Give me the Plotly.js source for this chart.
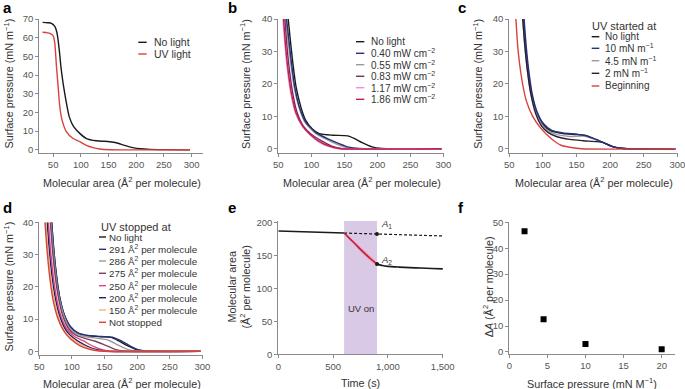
<!DOCTYPE html>
<html><head><meta charset="utf-8">
<script src="https://cdn.plot.ly/plotly-3.0.1.min.js"></script>
<style>html,body{margin:0;padding:0;background:#fff}#chart{width:685px;height:389px}</style>
</head><body><div id="chart"></div>
<script>
// ---------- Panel a ----------
const aNoLightX = [31,40,47,53,57,61,64,68,73,79,87,98,110,128,152,164,179,194,207,225,297];
const aNoLightY = [68.2,68,67.7,66,62.5,53.6,44.5,35.5,26.6,17.7,12.3,8.75,6,4.8,4.3,3.75,2.3,1.1,0.5,0.2,0];
const aUVX = [31,40,44,50,53,56,59,62,66,74,86,98,110,122,134,152,297];
const aUVY = [62.9,62.6,62.3,61,57,44.5,33.8,23,16,9.6,6,4.3,2.3,1.1,0.4,0,0];
// ---------- Panel b ----------
const bNoLightX = [65,68,72,77,85,92,102,112,132,155,165,177,192,207,230,297];
const bNoLightY = [40,34,26.5,19,12.3,8.6,6,4.7,4.2,4,3.2,1.9,0.6,0.1,0,0];
const b040X = [62.5,66,70,75,82,92,107,127,142,157,172,297];
const b040Y = [40,33.6,26.4,19,12.8,8.1,5,2.9,1.6,0.5,0.1,0];
const b055X = [61.5,65,69,74,81,90,105,120,140,155,297];
const b055Y = [40,33,26,19,13,8.3,5,3.2,1.3,0.3,0];
const b083X = [60,63,67,72,78,88,100,115,130,145,297];
const b083Y = [40,32,24,17,11.5,7,4.5,2.5,0.9,0.1,0];
const b117X = [57,60,64,69,76,86,97,110,125,140,297];
const b117Y = [40,32,24,17,11,7,4.5,2.3,0.8,0.1,0];
const b186X = [58,61,65,70,77,87,98,112,127,142,297];
const b186Y = [40,32,24,17,11,7,4.5,2.3,0.8,0.1,0];
// ---------- Panel c ----------
const cNoLightX = [71,74,78,83,90,100,112,130,150,163,175,190,205,220,297];
const cNoLightY = [40,32,24,17,11.5,7.5,5.5,4.7,4.4,4.1,3.2,1.9,0.6,0.1,0];
const c10X = [72,75,79,84,91,101,113,130,150,163,175,190,205,220,297];
const c10Y = [40,32,24,17,11.6,7.7,5.7,4.9,4.5,4.1,3.2,1.9,0.6,0.1,0];
const c45X = [70,73,77,82,89,99,110,125,140,160,175,190,205,220,297];
const c45Y = [40,32,24,17,11.5,7.3,5.2,4.2,3.8,3.9,3.1,1.9,0.6,0.1,0];
const c2X = [70,73,77,82,89,98,108,120,140,160,180,190,205,220,297];
const c2Y = [40,32,24,17,11,7,5,3.8,2.9,2.5,2.2,1.9,0.6,0.1,0];
const cBeginX = [59.8,63,68,75,85,97,112,127,142,157,297];
const cBeginY = [40,30.4,22.2,15,9.9,6.3,3.2,1.1,0.4,0,0];
// ---------- Panel d ----------
const dNoLightX = [69,72,76,81,88,98,110,125,145,160,172,185,200,215,297];
const dNoLightY = [40,32,24,17,11.5,7.5,5.5,4.8,4.5,4.3,3.2,1.8,0.5,0.1,0];
const d291X = [69,72,76,81,88,98,110,125,145,162,175,188,200,212,297];
const d291Y = [40,32,24,17,11.5,7.6,5.6,4.9,4.6,4.4,3.3,1.8,0.6,0.1,0];
const d286X = [68,71,75,80,87,96,108,122,140,155,170,185,200,297];
const d286Y = [40,32,24,17,11.5,7.3,5.3,4.5,4,3.5,2,0.6,0.1,0];
const d275X = [67,70,74,79,86,95,106,120,135,150,165,180,297];
const d275Y = [40,32,24,17,11,7,5,4,3.2,2,0.7,0.1,0];
const d250X = [64,67,71,76,83,92,104,118,132,148,160,297];
const d250Y = [40,32,24,17,11,7,4.6,3.2,1.6,0.4,0,0];
const d200X = [62,65,69,74,81,91,103,117,132,150,297];
const d200Y = [40,32,24,17,11,6.5,4,2.2,0.8,0.1,0];
const d150X = [60,63,67,72,79,88,100,115,130,145,297];
const d150Y = [40,32,24,17,11,6.5,4,2,0.7,0.1,0];
const dNotX = [58.7,62,66,71,78,87,98,112,127,142,297];
const dNotY = [40,31,23,16,10.5,6.5,3.8,1.8,0.6,0.1,0];
// ---------- Panel e ----------
const eBeforeT = [0,300,600];
const eBeforeA = [187.4,185.7,184.2];
const eDashT = [600,900,1200,1500];
const eDashA = [184.2,182.8,181.2,179.8];
const eUVT = [600,650,700,750,800,850,900];
const eUVA = [184.2,176,168,159.5,151.5,144,137];
const eBandUpper = [185,179,171.5,163.5,155.5,148,140];
const eBandLower = [183,173,164.5,155.5,147.5,140,134];
const eAfterT = [900,950,1000,1100,1200,1300,1400,1500];
const eAfterA = [137,134.8,133.6,132.5,131.6,131,130.4,129.8];
const eUVStart = 600, eUVEnd = 900;
const eMarksT = [900,900];
const eMarksA = [182.8,137];
// ---------- Panel f ----------
const fPressure = [2,4.5,10,20];
const fDeltaA = [46.5,12.6,3.1,1.0];

// ---------- helpers ----------
const W = 685, H = 389;
const px = v => v / W;
const py = v => 1 - v / H;
function line(x, y, color, xa, ya, w, extra) {
  return Object.assign({x: x, y: y, xaxis: xa, yaxis: ya, mode: 'lines', type: 'scatter',
    line: {color: color, width: w || 1.4, shape: 'spline', smoothing: 0.6}, hoverinfo: 'skip', showlegend: false}, extra || {});
}
const K = '#1a1a1a', RED = '#d8413c', NAVY = '#25307f', GRAY = '#9a9a9a';
const traces = [
  line(aNoLightX, aNoLightY, K, 'x', 'y'),
  line(aUVX, aUVY, RED, 'x', 'y'),

  line(bNoLightX, bNoLightY, K, 'x2', 'y2'),
  line(b055X, b055Y, GRAY, 'x2', 'y2'),
  line(b040X, b040Y, NAVY, 'x2', 'y2'),
  line(b083X, b083Y, '#7a2d5c', 'x2', 'y2'),
  line(b117X, b117Y, '#f08fd6', 'x2', 'y2'),
  line(b186X, b186Y, '#c21e4e', 'x2', 'y2'),

  line(cNoLightX, cNoLightY, K, 'x3', 'y3'),
  line(c45X, c45Y, GRAY, 'x3', 'y3'),
  line(c2X, c2Y, '#2e1c30', 'x3', 'y3'),
  line(c10X, c10Y, NAVY, 'x3', 'y3'),
  line(cBeginX, cBeginY, RED, 'x3', 'y3'),

  line(dNoLightX, dNoLightY, K, 'x4', 'y4'),
  line(d291X, d291Y, NAVY, 'x4', 'y4'),
  line(d286X, d286Y, GRAY, 'x4', 'y4'),
  line(d275X, d275Y, '#7b4260', 'x4', 'y4'),
  line(d250X, d250Y, '#e0458a', 'x4', 'y4'),
  line(d200X, d200Y, '#1e1f66', 'x4', 'y4'),
  line(d150X, d150Y, '#e8b87a', 'x4', 'y4'),
  line(dNotX, dNotY, RED, 'x4', 'y4'),

  line(eUVT, eBandLower, 'rgba(0,0,0,0)', 'x5', 'y5', 0.1),
  line(eUVT, eBandUpper, 'rgba(0,0,0,0)', 'x5', 'y5', 0.1, {fill: 'tonexty', fillcolor: '#f6a3b8'}),
  line(eBeforeT, eBeforeA, K, 'x5', 'y5', 1.6),
  line(eDashT, eDashA, K, 'x5', 'y5', 1.2, {line: {color: K, width: 1.2, dash: '3px,2px'}}),
  line(eUVT, eUVA, '#b8203e', 'x5', 'y5', 1.6),
  line(eAfterT, eAfterA, K, 'x5', 'y5', 1.6),
  {x: eMarksT, y: eMarksA, xaxis: 'x5', yaxis: 'y5', mode: 'markers', type: 'scatter',
   marker: {color: K, size: 4}, hoverinfo: 'skip', showlegend: false},

  {x: fPressure, y: fDeltaA, xaxis: 'x6', yaxis: 'y6', mode: 'markers', type: 'scatter',
   marker: {color: '#000', size: 6, symbol: 'square'}, hoverinfo: 'skip', showlegend: false}
];

const FONT = 'Liberation Sans, Arial, sans-serif';
const TICKF = {size: 9.5, color: '#555', family: FONT};
function xax(l, r, range, anchor, tickvals, ticktext) {
  const o = {domain: [px(l), px(r)], range: range, anchor: anchor, showline: true, linecolor: '#8a8a8a', linewidth: 1,
    ticks: 'outside', ticklen: 3, tickcolor: '#8a8a8a', showgrid: false, zeroline: false, ticklabeloverflow: 'allow',
    tickfont: TICKF, tickvals: tickvals, fixedrange: true};
  if (ticktext) o.ticktext = ticktext;
  return o;
}
function yax(t, b, range, anchor, tickvals) {
  return {domain: [py(b), py(t)], range: range, anchor: anchor, showline: true, linecolor: '#8a8a8a', linewidth: 1,
    ticks: 'outside', ticklen: 3, tickcolor: '#8a8a8a', showgrid: false, zeroline: false, ticklabeloverflow: 'allow',
    tickfont: TICKF, tickvals: tickvals, fixedrange: true};
}
const t50 = [50,100,150,200,250,300];
const t40 = [0,10,20,30,40];

const ann = [];
const shapes = [];
function text(x, y, s, opt) {
  ann.push(Object.assign({xref: 'paper', yref: 'paper', x: px(x), y: py(y), text: s, showarrow: false,
    xanchor: 'center', yanchor: 'middle', font: {size: 10, color: '#333', family: FONT}}, opt || {}));
}
function legItem(x0, x1, y, color, label, tx, fs) {
  shapes.push({type: 'line', xref: 'paper', yref: 'paper', x0: px(x0), x1: px(x1), y0: py(y), y1: py(y), line: {color: color, width: 1.4}});
  text(tx, y, label, {xanchor: 'left', font: {size: fs || 10, color: '#333', family: FONT}});
}
// panel labels
const PL = {size: 15, color: '#000', family: FONT, weight: 'bold'};
text(1, 8, '<b>a</b>', {xanchor: 'left', font: PL});
text(226, 8, '<b>b</b>', {xanchor: 'left', font: PL});
text(456, 8, '<b>c</b>', {xanchor: 'left', font: PL});
text(1, 208, '<b>d</b>', {xanchor: 'left', font: PL});
text(226, 208, '<b>e</b>', {xanchor: 'left', font: PL});
text(456, 208, '<b>f</b>', {xanchor: 'left', font: PL});
// axis titles
const XT = 'Molecular area (Å<sup>2</sup> per molecule)';
const YT = 'Surface pressure (mN m<sup>−1</sup>)';
const TF = {size: 10.8, color: '#333', family: FONT};
text(121.7, 181.5, XT, {font: TF});
text(361.7, 181.5, XT, {font: TF});
text(594.3, 181.5, XT, {font: TF});
text(121.7, 383, XT, {font: TF});
text(360, 383, 'Time (s)', {font: TF});
text(591.7, 383, 'Surface pressure (mN M<sup>−1</sup>)', {font: TF});
text(8.5, 84, YT, {textangle: -90, font: TF});
text(245, 84, YT, {textangle: -90, font: TF});
text(477.7, 84, YT, {textangle: -90, font: TF});
text(8.5, 287, YT, {textangle: -90, font: TF});
text(238.5, 287, 'Molecular area<br>(Å<sup>2</sup> per molecule)', {textangle: -90, font: TF});
text(488.3, 287, 'Δ<i>A</i> (Å<sup>2</sup> per molecule)', {textangle: -90, font: TF});
// legends
legItem(138.3, 146.7, 42.3, K, 'No light', 151.5, 10.5);
legItem(138.3, 146.7, 54, RED, 'UV light', 151.5, 10.5);
const bLab = ['No light','0.40 mW cm<sup>−2</sup>','0.55 mW cm<sup>−2</sup>','0.83 mW cm<sup>−2</sup>','1.17 mW cm<sup>−2</sup>','1.86 mW cm<sup>−2</sup>'];
const bCol = [K, NAVY, GRAY, '#7a2d5c', '#f08fd6', '#c21e4e'];
const bRows = [41.7,53.3,64.7,76.3,87.7,99.3];
bLab.forEach((s,i) => legItem(356, 364.3, bRows[i], bCol[i], s, 369));
text(590, 26, 'UV started at', {xanchor: 'left', font: {size: 11, color: '#333', family: FONT}});
const cLab = ['No light','10 mN m<sup>−1</sup>','4.5 mN m<sup>−1</sup>','2 mN m<sup>−1</sup>','Beginning'];
const cCol = [K, NAVY, GRAY, '#2e1c30', RED];
const cRows = [36.7,48.3,60.7,73.3,86];
cLab.forEach((s,i) => legItem(591.7, 599.3, cRows[i], cCol[i], s, 603.3));
text(99, 226.7, 'UV stopped at', {xanchor: 'left', font: {size: 11, color: '#333', family: FONT}});
const dLab = ['No light','291 Å<sup>2</sup> per molecule','286 Å<sup>2</sup> per molecule','275 Å<sup>2</sup> per molecule','250 Å<sup>2</sup> per molecule','200 Å<sup>2</sup> per molecule','150 Å<sup>2</sup> per molecule','Not stopped'];
const dCol = [K, NAVY, GRAY, '#7b4260', '#e0458a', '#1e1f66', '#e8b87a', RED];
const dRows = [237,249.3,261,273.3,285.7,297.7,310,322.3];
dLab.forEach((s,i) => legItem(99, 106, dRows[i], dCol[i], s, 107, 9.8));
// panel e extras
shapes.push({type: 'rect', xref: 'x5', yref: 'y5', x0: eUVStart, x1: eUVEnd, y0: 0, y1: 202.5,
  fillcolor: '#d9c9e6', line: {width: 0}, layer: 'below'});
ann.push({xref: 'x5', yref: 'y5', x: 750, y: 69, text: 'UV on', showarrow: false, font: {size: 9.5, color: '#333', family: FONT}});
ann.push({xref: 'x5', yref: 'y5', x: 920, y: 198, text: '<i>A</i><sub>1</sub>', showarrow: false, xanchor: 'left', font: {size: 9.5, color: '#333', family: FONT}});
ann.push({xref: 'x5', yref: 'y5', x: 920, y: 144, text: '<i>A</i><sub>2</sub>', showarrow: false, xanchor: 'left', font: {size: 9.5, color: '#333', family: FONT}});

const layout = {
  width: W, height: H, margin: {l: 0, r: 0, t: 0, b: 0}, paper_bgcolor: '#fff', plot_bgcolor: 'rgba(0,0,0,0)',
  showlegend: false, font: {family: FONT},
  xaxis: xax(39.3, 202.7, [25, 320], 'y', t50),
  yaxis: yax(19, 152.7, [-1.6, 70], 'x', [0,10,20,30,40,50,60,70]),
  xaxis2: xax(278.3, 444, [50, 301], 'y2', t50),
  yaxis2: yax(19, 152.7, [-1.2, 40], 'x2', t40),
  xaxis3: xax(509.3, 678, [50, 301], 'y3', t50),
  yaxis3: yax(19, 152.7, [-1.2, 40], 'x3', t40),
  xaxis4: xax(39.3, 203, [50, 301], 'y4', t50),
  yaxis4: yax(222.3, 354.7, [-1.05, 40], 'x4', t40),
  xaxis5: xax(278.3, 443.3, [0, 1505], 'y5', [0,500,1000,1500], ['0','500','1,000','1,500']),
  yaxis5: yax(221, 354.3, [0, 202.5], 'x5', [0,50,100,150,200]),
  xaxis6: xax(509.3, 675, [0, 21.75], 'y6', [0,5,10,15,20]),
  yaxis6: yax(222.3, 354, [-0.8, 50], 'x6', [0,10,20,30,40,50]),
  annotations: ann, shapes: shapes
};
Plotly.newPlot('chart', traces, layout, {displayModeBar: false, staticPlot: true});
</script></body></html>
